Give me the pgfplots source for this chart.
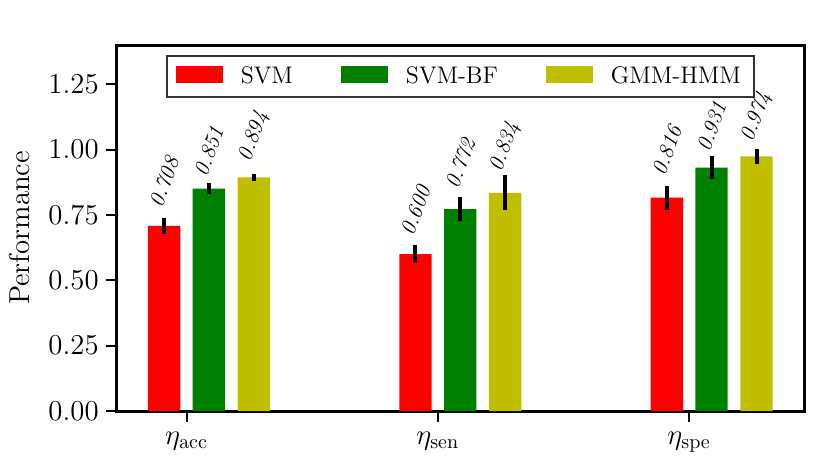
\documentclass[border=0pt]{standalone}
\usepackage{pgfplots}
\pgfplotsset{compat=1.18}
\definecolor{svmred}{RGB}{255,0,0}
\definecolor{svmgreen}{RGB}{0,128,0}
\definecolor{gmmyellow}{RGB}{191,191,0}
\begin{document}
\begin{tikzpicture}
\path[use as bounding box] (-58.35pt,-23pt) rectangle (356.65pt,205.5pt);
\begin{axis}[
  at={(0pt,0pt)}, anchor=south west,
  scale only axis, width=343.65pt, height=183pt,
  xmin=-0.278, xmax=2.457, ymin=0, ymax=1.4,
  xtick={0,1,2},
  xticklabels={$\eta_{\mathrm{acc}}$,$\eta_{\mathrm{sen}}$,$\eta_{\mathrm{spe}}$},
  ytick={0,0.25,0.5,0.75,1,1.25},
  yticklabel style={/pgf/number format/.cd, fixed, fixed zerofill, precision=2},
  xticklabel style={yshift=-1.5pt},
  tick label style={font=\Large},
  tick align=outside, major tick length=5.5pt,
  xtick pos=lower, ytick pos=left,
  axis line style={line width=1.5pt},
  tick style={line width=1pt, black},
  ylabel={Performance},
  ylabel style={font=\Large, at={(axis description cs:-0.1421,0.5)}, anchor=center, rotate=0},
  legend columns=3,
  legend cell align=left,
  legend style={at={(0.5,0.974)}, anchor=north, draw=black!80, line width=1pt,
    fill=white, font=\large, inner xsep=4.5pt, inner ysep=3.5pt,
    /tikz/every even column/.append style={column sep=22pt},
    /tikz/every odd column/.append style={column sep=7pt}},
]
\addplot[ybar, bar shift=0pt, bar width=0.129, fill=svmred, draw=none,
  legend image code/.code={\fill[svmred] (0pt,-3.2pt) rectangle (23.5pt,5pt);},
  error bars/.cd, y dir=both, y explicit, error mark=none,
  error bar style={line width=2pt, black}]
  coordinates {(-0.089,0.708) +- (0,0.032) (0.911,0.600) +- (0,0.034) (1.911,0.816) +- (0,0.046)};
\addlegendentry{SVM}
\addplot[ybar, bar shift=0pt, bar width=0.129, fill=svmgreen, draw=none,
  legend image code/.code={\fill[svmgreen] (0pt,-3.2pt) rectangle (23.5pt,5pt);},
  error bars/.cd, y dir=both, y explicit, error mark=none,
  error bar style={line width=2pt, black}]
  coordinates {(0.089,0.851) +- (0,0.021) (1.089,0.772) +- (0,0.045) (2.089,0.931) +- (0,0.044)};
\addlegendentry{SVM-BF}
\addplot[ybar, bar shift=0pt, bar width=0.129, fill=gmmyellow, draw=none,
  legend image code/.code={\fill[gmmyellow] (0pt,-3.2pt) rectangle (23.5pt,5pt);},
  error bars/.cd, y dir=both, y explicit, error mark=none,
  error bar style={line width=2pt, black}]
  coordinates {(0.268,0.894) +- (0,0.013) (1.268,0.834) +- (0,0.067) (2.268,0.974) +- (0,0.029)};
\addlegendentry{GMM-HMM}
\addplot[draw=none, mark=none, forget plot, nodes near coords,
  point meta=explicit symbolic,
  nodes near coords style={anchor=center, rotate=70, inner sep=0pt,
    font=\fontsize{11}{13}\selectfont\itshape}]
  coordinates {
    (-0.089,0.876) [0.708] (0.089,0.994) [0.851] (0.268,1.050) [0.894]
    (0.911,0.767) [0.600] (1.089,0.948) [0.772] (1.268,1.010) [0.834]
    (1.911,0.996) [0.816] (2.089,1.088) [0.931] (2.268,1.124) [0.974]
  };
\end{axis}
\end{tikzpicture}
\end{document}
